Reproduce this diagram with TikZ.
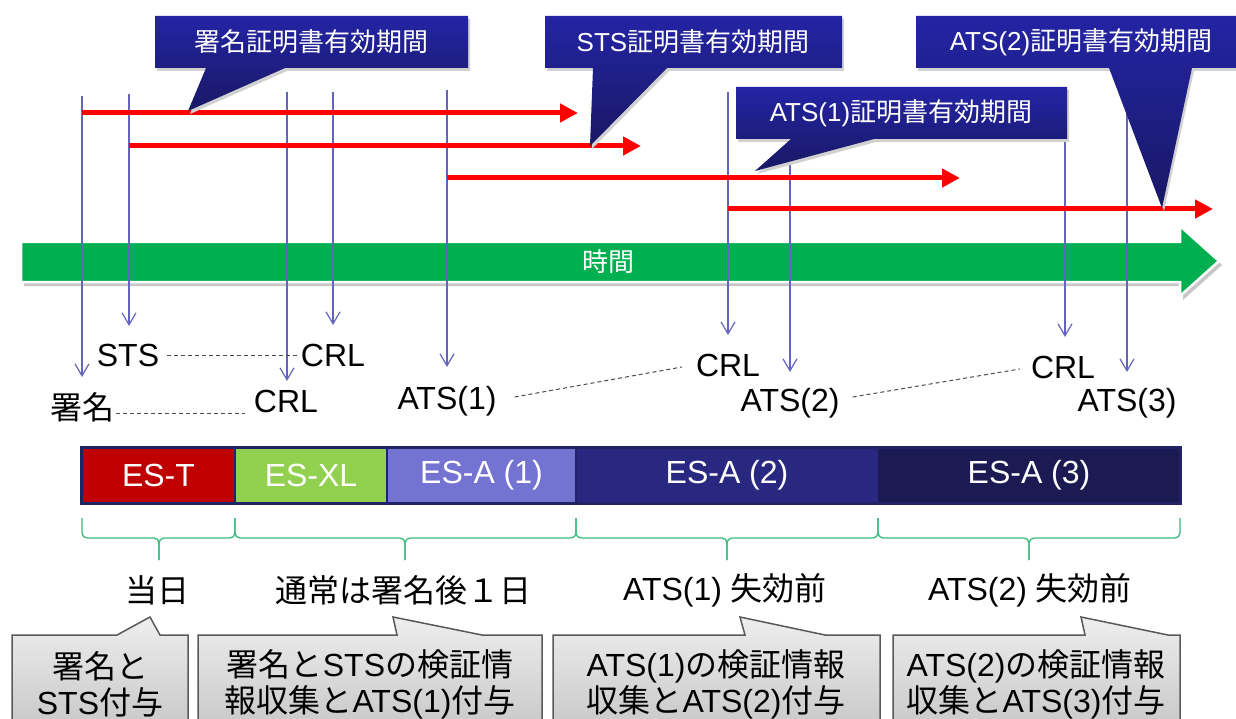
\documentclass[tikz,border=0pt]{standalone}
\usepackage{fontspec}
\setmainfont{Liberation Sans}
\newfontfamily\jpfont{Noto Sans CJK JP}
\usetikzlibrary{arrows.meta}
\definecolor{vblue}{RGB}{100,100,190}
\definecolor{calA}{RGB}{36,36,165}
\definecolor{calB}{RGB}{24,24,100}
\definecolor{tgreen}{RGB}{0,176,80}
\definecolor{esTc}{RGB}{192,0,0}
\definecolor{esXLc}{RGB}{146,208,80}
\definecolor{esAa}{RGB}{115,115,210}
\definecolor{esAb}{RGB}{40,40,128}
\definecolor{esAc}{RGB}{27,26,82}
\definecolor{barborder}{RGB}{34,34,102}
\definecolor{bracec}{RGB}{60,185,125}
\definecolor{grayTop}{RGB}{238,238,238}
\definecolor{grayBot}{RGB}{196,196,196}
\begin{document}
\begin{tikzpicture}[x=1pt,y=-1pt,
  vline/.style={draw=vblue, line width=1.2pt, -{Straight Barb[length=12pt,width=14pt]}},
  redarrow/.style={draw=red, line width=5pt, -{Triangle[length=18pt,width=18pt]}},
  lbl/.style={font=\fontsize{32}{36}\selectfont, inner sep=0pt},
  caltext/.style={font=\fontsize{26}{30}\selectfont, text=white, inner sep=0pt},
  callout/.style={top color=calA, bottom color=calB, draw=none},
  calshadow/.style={fill=black!18, draw=none},
  graycall/.style={top color=grayTop, bottom color=grayBot, draw=black!65, line width=1.5pt},
  seg/.style={font=\fontsize{32}{36}\selectfont, text=white, inner sep=0pt, draw=none, minimum height=55pt},
  dashc/.style={draw=black!70, line width=1pt, dash pattern=on 4pt off 3pt},
  bracestyle/.style={draw=bracec, line width=1.3pt, rounded corners=5pt},
  bottomtext/.style={font=\fontsize{32}{38}\selectfont, inner sep=0pt},
  boxtext/.style={font=\fontsize{32}{36}\selectfont, align=center, inner sep=0pt}
]
\useasboundingbox (0,0) rectangle (1236,719);
\clip (0,0) rectangle (1236,719);
\fill[white] (0,0) rectangle (1236,719);

% time arrow
\fill[black!22] [shift={(3,4)}] (21,242) -- (1180,242) -- (1180,226) -- (1219,261) -- (1180,296) -- (1180,282) -- (21,282) -- cycle;
\filldraw[fill=tgreen, draw=white, line width=2.5pt] (21,242) -- (1180,242) -- (1180,226) -- (1219,261) -- (1180,296) -- (1180,282) -- (21,282) -- cycle;
\node[font=\jpfont\fontsize{26}{30}\selectfont, text=white, inner sep=0pt] (jikan) at (608,262) {時間};

% vertical event arrows
\coordinate (v1t) at (82,96);    \coordinate (v1b) at (82,377);
\coordinate (v2t) at (129,94);   \coordinate (v2b) at (129,326);
\coordinate (v3t) at (287,92);   \coordinate (v3b) at (287,381);
\coordinate (v4t) at (333,92);   \coordinate (v4b) at (333,325);
\coordinate (v5t) at (447,90);   \coordinate (v5b) at (447,367);
\coordinate (v6t) at (728,92);   \coordinate (v6b) at (728,335);
\coordinate (v7t) at (790,92);   \coordinate (v7b) at (790,372);
\coordinate (v8t) at (1065,92);  \coordinate (v8b) at (1065,337);
\coordinate (v9t) at (1127,92);  \coordinate (v9b) at (1127,372);
\foreach \i in {1,...,9} { \draw[vline] (v\i t) -- (v\i b); }

% validity period arrows
\coordinate (r1s) at (82,113);  \coordinate (r1e) at (578,113);
\coordinate (r2s) at (129,146); \coordinate (r2e) at (641,146);
\coordinate (r3s) at (447,178); \coordinate (r3e) at (960,178);
\coordinate (r4s) at (728,209); \coordinate (r4e) at (1213,209);
\foreach \i in {1,...,4} { \draw[redarrow] (r\i s) -- (r\i e); }

% callouts (top)
\fill[calshadow] [shift={(2,3)}] (155,16) -- (468,16) -- (468,68) -- (285,68) -- (188,111) -- (206,68) -- (155,68) -- cycle;
\shade[callout] (155,16) -- (468,16) -- (468,68) -- (285,68) -- (188,111) -- (206,68) -- (155,68) -- cycle;
\node[caltext] (c1) at (311,42) {\jpfont 署名証明書有効期間};

\fill[calshadow] [shift={(2,3)}] (545,16) -- (842,16) -- (842,68) -- (667,68) -- (590,146) -- (593,68) -- (545,68) -- cycle;
\shade[callout] (545,16) -- (842,16) -- (842,68) -- (667,68) -- (590,146) -- (593,68) -- (545,68) -- cycle;
\node[caltext] (c2) at (693,42) {STS{\jpfont 証明書有効期間}};

\fill[calshadow] [shift={(2,3)}] (736,87) -- (1067,87) -- (1067,139) -- (874,139) -- (755,171) -- (791,139) -- (736,139) -- cycle;
\shade[callout] (736,87) -- (1067,87) -- (1067,139) -- (874,139) -- (755,171) -- (791,139) -- (736,139) -- cycle;
\node[caltext] (c3) at (901,113) {ATS(1){\jpfont 証明書有効期間}};

\fill[calshadow] [shift={(2,3)}] (916,16) -- (1250,16) -- (1250,68) -- (1192,68) -- (1162,208) -- (1109,68) -- (916,68) -- cycle;
\shade[callout] (916,16) -- (1250,16) -- (1250,68) -- (1192,68) -- (1162,208) -- (1109,68) -- (916,68) -- cycle;
\node[caltext] (c4) at (1081,42) {ATS(2){\jpfont 証明書有効期間}};

% event labels
\node[lbl] (sts)  at (128,355) {STS};
\node[lbl] (crlA) at (333,355) {CRL};
\node[lbl] (sig)  at (82,407) {\jpfont 署名};
\node[lbl] (crlB) at (286,401) {CRL};
\node[lbl] (ats1) at (447,401) {ATS(1)};
\node[lbl] (crlC) at (728,365) {CRL};
\node[lbl] (ats2) at (790,403) {ATS(2)};
\node[lbl] (crlD) at (1063,367) {CRL};
\node[lbl] (ats3) at (1127,403) {ATS(3)};

\draw[dashc] ([xshift=8pt]sts.east) -- ([xshift=-2pt]crlA.west);
\draw[dashc] ([xshift=2pt,yshift=-6pt]sig.east) -- ([xshift=-9pt,yshift=-12pt]crlB.west);
\draw[dashc] ([xshift=18pt,yshift=4pt]ats1.east) -- ([xshift=-14pt,yshift=-2pt]crlC.west);
\draw[dashc] ([xshift=13pt,yshift=6pt]ats2.east) -- ([xshift=-11pt,yshift=-2pt]crlD.west);

% format bar
\node[seg, fill=esTc,  minimum width=153pt] (esT)  at (158.5,475.5) {ES-T};
\node[seg, fill=esXLc, minimum width=152pt] (esXL) at (311,475.5) {ES-XL};
\node[seg, fill=esAa,  minimum width=189pt] (esA1) at (481.5,475.5) {ES-A (1)};
\node[seg, fill=esAb,  minimum width=302pt] (esA2) at (727,475.5) {ES-A (2)};
\node[seg, fill=esAc,  minimum width=302pt] (esA3) at (1029,475.5) {ES-A (3)};
\draw[barborder, line width=2pt] (esT.north east) -- (esT.south east);
\draw[barborder, line width=2pt] (esXL.north east) -- (esXL.south east);
\draw[barborder, line width=2pt] (esA1.north east) -- (esA1.south east);
\draw[barborder, line width=3pt] (esT.north west) rectangle (esA3.south east);

% braces
\draw[bracestyle] (82,518) -- (82,538) -- (159,538) -- (159,560);
\draw[bracestyle] (235,518) -- (235,538) -- (159,538) -- (159,560);
\draw[bracestyle] (235,518) -- (235,538) -- (405,538) -- (405,560);
\draw[bracestyle] (576,518) -- (576,538) -- (405,538) -- (405,560);
\draw[bracestyle] (576,518) -- (576,538) -- (727,538) -- (727,560);
\draw[bracestyle] (878,518) -- (878,538) -- (727,538) -- (727,560);
\draw[bracestyle] (878,518) -- (878,538) -- (1029,538) -- (1029,560);
\draw[bracestyle] (1180,518) -- (1180,538) -- (1029,538) -- (1029,560);

% period labels
\node[bottomtext] (d1) at (157,590) {\jpfont 当日};
\node[bottomtext] (d2) at (403,590) {\jpfont 通常は署名後１日};
\node[bottomtext] (d3) at (725,590) {ATS(1) {\jpfont 失効前}};
\node[bottomtext] (d4) at (1030,590) {ATS(2) {\jpfont 失効前}};

% bottom callouts
\shade[graycall] (12,635) -- (117,635) -- (150,617) -- (160,635) -- (188,635) -- (188,740) -- (12,740) -- cycle;
\node[boxtext] (b1) at (100,684) {{\jpfont 署名と}\\STS{\jpfont 付与}};

\shade[graycall] (198,635) -- (397,635) -- (393,617) -- (482,635) -- (542,635) -- (542,740) -- (198,740) -- cycle;
\node[boxtext] (b2) at (370,684) {{\jpfont 署名と}STS{\jpfont の検証情}\\{\jpfont 報収集と}ATS(1){\jpfont 付与}};

\shade[graycall] (553,635) -- (745,635) -- (740,617) -- (825,635) -- (880,635) -- (880,740) -- (553,740) -- cycle;
\node[boxtext] (b3) at (716,684) {ATS(1){\jpfont の検証情報}\\{\jpfont 収集と}ATS(2){\jpfont 付与}};

\shade[graycall] (893,635) -- (1085,635) -- (1081,617) -- (1168,635) -- (1180,635) -- (1180,740) -- (893,740) -- cycle;
\node[boxtext] (b4) at (1036,684) {ATS(2){\jpfont の検証情報}\\{\jpfont 収集と}ATS(3){\jpfont 付与}};
\end{tikzpicture}
\end{document}
